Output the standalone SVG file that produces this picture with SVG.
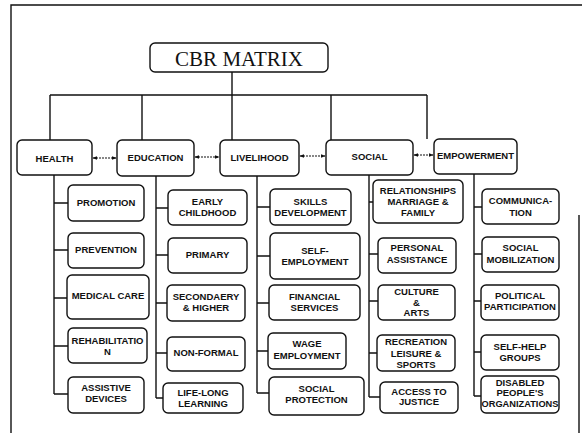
<svg xmlns="http://www.w3.org/2000/svg" width="582" height="433" viewBox="0 0 582 433">
<defs>
<marker id="ah" viewBox="0 0 8 8" refX="7" refY="4" markerWidth="5" markerHeight="5" orient="auto-start-reverse" markerUnits="userSpaceOnUse">
<path d="M0,1 L8,4 L0,7 Z" fill="#111"/>
</marker>
<style>
.b{fill:#fff;stroke:#111;stroke-width:1.4}
.t{font-family:"Liberation Sans",Arial,sans-serif;font-weight:bold;font-size:9.5px;fill:#111;text-anchor:middle}
.l{fill:none;stroke:#111;stroke-width:1.4}
.a{fill:none;stroke:#111;stroke-width:1.2;stroke-dasharray:2 1;marker-start:url(#ah);marker-end:url(#ah)}
</style>
</defs>
<rect width="582" height="433" fill="#fff"/>
<path class="l" d="M11,433 V5 H582 M579,215 V433"/>
<g id="connectors">
<path class="l" d="M232,72 V95 M50,95 H427 M50,95 V140 M142,95 V140 M232,95 V140 M331,95 V140 M427,95 V139"/>
<path class="a" d="M93,158 H116"/>
<path class="a" d="M195,157 H219"/>
<path class="a" d="M300,156 H325"/>
<path class="a" d="M414,155 H433"/>
<path class="l" d="M54,175 V394 M54,203 H68 M54,250 H68 M54,298 H67 M54,346 H68 M54,394 H68"/>
<path class="l" d="M156,176 V398 M156,208 H168 M156,255 H168 M156,303 H167 M156,353 H167 M156,398 H163"/>
<path class="l" d="M257,176 V393 M257,207 H270 M257,256 H270 M257,303 H269 M257,351 H268 M257,393 H269"/>
<path class="l" d="M369,175 V397 M369,202 H373 M369,254 H378 M369,301 H378 M369,353 H377 M369,397 H380"/>
<path class="l" d="M474,174 V396 M474,207 H482 M474,254 H482 M474,301 H481 M474,352 H481 M474,396 H481"/>
</g>
<g id="title">
<rect class="b" x="150" y="43" width="178" height="29" rx="5"/>
<text x="239" y="66" font-family="'Liberation Serif','Times New Roman',serif" font-size="21" text-anchor="middle" fill="#111">CBR MATRIX</text>
</g>
<g id="health"><rect class="b" x="17" y="140" width="75" height="35" rx="5"/><text class="t" x="54.5" y="161.5">HEALTH</text></g>
<g id="education"><rect class="b" x="117" y="140" width="77" height="36" rx="5"/><text class="t" x="155.5" y="161">EDUCATION</text></g>
<g id="livelihood"><rect class="b" x="220" y="140" width="79" height="36" rx="5"/><text class="t" x="259.5" y="160.5">LIVELIHOOD</text></g>
<g id="social"><rect class="b" x="326" y="140" width="87" height="35" rx="5"/><text class="t" x="369.5" y="160">SOCIAL</text></g>
<g id="empowerment"><rect class="b" x="434" y="139" width="83" height="35" rx="5"/><text class="t" x="475.5" y="159">EMPOWERMENT</text></g>

<g id="promotion"><rect class="b" x="68" y="185" width="76" height="36" rx="5"/><text class="t" x="106" y="206.4">PROMOTION</text></g>
<g id="prevention"><rect class="b" x="68" y="233" width="76" height="35" rx="5"/><text class="t" x="106" y="253.4">PREVENTION</text></g>
<g id="medical-care"><rect class="b" x="67" y="275" width="82" height="44" rx="5"/><text class="t" x="108" y="299.4">MEDICAL CARE</text></g>
<g id="rehabilitation"><rect class="b" x="68" y="328" width="79" height="35" rx="5"/><text class="t" x="107.5" y="344.4">REHABILITATIO</text><text class="t" x="107.5" y="355.4">N</text></g>
<g id="assistive-devices"><rect class="b" x="68" y="377" width="76" height="36" rx="5"/><text class="t" x="106" y="391.4">ASSISTIVE</text><text class="t" x="106" y="402.4">DEVICES</text></g>

<g id="early-childhood"><rect class="b" x="168" y="190" width="79" height="35" rx="5"/><text class="t" x="207.5" y="205.4">EARLY</text><text class="t" x="207.5" y="216.4">CHILDHOOD</text></g>
<g id="primary"><rect class="b" x="168" y="238" width="79" height="35" rx="5"/><text class="t" x="207.5" y="258.4">PRIMARY</text></g>
<g id="secondary"><rect class="b" x="167" y="285" width="78" height="36" rx="5"/><text class="t" x="206" y="300.4">SECONDAERY</text><text class="t" x="206" y="311.4">&amp; HIGHER</text></g>
<g id="non-formal"><rect class="b" x="167" y="337" width="78" height="34" rx="5"/><text class="t" x="206" y="356.4">NON-FORMAL</text></g>
<g id="life-long"><rect class="b" x="163" y="383" width="80" height="30" rx="5"/><text class="t" x="203" y="396.4">LIFE-LONG</text><text class="t" x="203" y="407.4">LEARNING</text></g>

<g id="skills"><rect class="b" x="270" y="189" width="81" height="36" rx="5"/><text class="t" x="310.5" y="205.4">SKILLS</text><text class="t" x="310.5" y="216.4">DEVELOPMENT</text></g>
<g id="self-employment"><rect class="b" x="270" y="233" width="90" height="46" rx="5"/><text class="t" x="315" y="254.4">SELF-</text><text class="t" x="315" y="265.4">EMPLOYMENT</text></g>
<g id="financial"><rect class="b" x="269" y="285" width="91" height="35" rx="5"/><text class="t" x="314.5" y="300.4">FINANCIAL</text><text class="t" x="314.5" y="311.4">SERVICES</text></g>
<g id="wage"><rect class="b" x="268" y="333" width="78" height="36" rx="5"/><text class="t" x="307" y="347.4">WAGE</text><text class="t" x="307" y="359.4">EMPLOYMENT</text></g>
<g id="social-protection"><rect class="b" x="269" y="377" width="95" height="38" rx="5"/><text class="t" x="316.5" y="392.4">SOCIAL</text><text class="t" x="316.5" y="403.4">PROTECTION</text></g>

<g id="relationships"><rect class="b" x="373" y="180" width="90" height="43" rx="5"/><text class="t" x="418" y="194.4">RELATIONSHIPS</text><text class="t" x="418" y="205.4">MARRIAGE &amp;</text><text class="t" x="418" y="216.4">FAMILY</text></g>
<g id="personal-assistance"><rect class="b" x="378" y="238" width="78" height="35" rx="5"/><text class="t" x="417" y="251.4">PERSONAL</text><text class="t" x="417" y="263.4">ASSISTANCE</text></g>
<g id="culture"><rect class="b" x="378" y="285" width="77" height="35" rx="5"/><text class="t" x="416.5" y="295.4">CULTURE</text><text class="t" x="416.5" y="306.4">&amp;</text><text class="t" x="416.5" y="316.4">ARTS</text></g>
<g id="recreation"><rect class="b" x="377" y="335" width="78" height="36" rx="5"/><text class="t" x="416" y="345.4">RECREATION</text><text class="t" x="416" y="357.4">LEISURE &amp;</text><text class="t" x="416" y="368.4">SPORTS</text></g>
<g id="access-justice"><rect class="b" x="380" y="382" width="78" height="31" rx="5"/><text class="t" x="419" y="395.4">ACCESS TO</text><text class="t" x="419" y="405.4">JUSTICE</text></g>

<g id="communication"><rect class="b" x="482" y="189" width="77" height="35" rx="5"/><text class="t" x="520.5" y="204.4">COMMUNICA-</text><text class="t" x="520.5" y="216.4">TION</text></g>
<g id="social-mobilization"><rect class="b" x="482" y="237" width="77" height="35" rx="5"/><text class="t" x="520.5" y="251.4">SOCIAL</text><text class="t" x="520.5" y="263.4">MOBILIZATION</text></g>
<g id="political"><rect class="b" x="481" y="285" width="78" height="35" rx="5"/><text class="t" x="520" y="299.4">POLITICAL</text><text class="t" x="520" y="310.4">PARTICIPATION</text></g>
<g id="self-help"><rect class="b" x="481" y="335" width="78" height="35" rx="5"/><text class="t" x="520" y="350.4">SELF-HELP</text><text class="t" x="520" y="361.4">GROUPS</text></g>
<g id="dpo"><rect class="b" x="481" y="376" width="78" height="37" rx="5"/><text class="t" x="520" y="386.4">DISABLED</text><text class="t" x="520" y="396.4">PEOPLE'S</text><text class="t" x="520" y="407.4" textLength="77" lengthAdjust="spacingAndGlyphs">ORGANIZATIONS</text></g>
</svg>
